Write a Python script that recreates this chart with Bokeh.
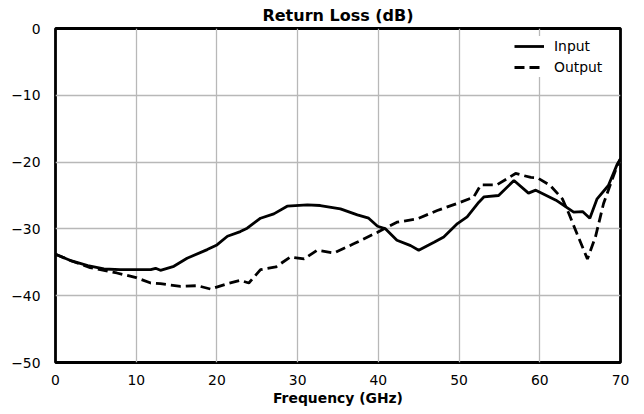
from bokeh.plotting import figure
from bokeh.embed import file_html
from bokeh.resources import INLINE
from bokeh.models import Range1d, FixedTicker, Legend, LegendItem

# Data
input_freq = [0, 2, 4, 6, 8, 10, 11.8, 12.4, 13.0, 14.66, 16.3, 18.8, 20.0, 21.3, 22.9, 23.75, 25.4, 27.05,
              28.7, 31.2, 32.8, 35.3, 37.4, 38.8, 39.9, 40.9, 42.3, 44.0, 45.0, 46.9, 48.1, 49.8, 51.0,
              52.45, 53.1, 54.9, 56.8, 58.6, 59.5, 62.0, 64.2, 65.3, 66.2, 67.1, 68.5, 69.6, 70]
input_rl = [-33.8, -34.8, -35.5, -36.0, -36.1, -36.1, -36.1, -35.9, -36.2, -35.6, -34.4, -33.1, -32.4, -31.1,
            -30.4, -29.9, -28.4, -27.75, -26.6, -26.4, -26.5, -27.0, -27.9, -28.4, -29.6, -30.0, -31.7,
            -32.5, -33.2, -32.0, -31.2, -29.2, -28.2, -26.0, -25.2, -25.0, -22.75, -24.65, -24.2, -25.7,
            -27.5, -27.4, -28.4, -25.5, -23.5, -20.3, -19.5]

output_freq = [0, 2, 4.3, 7.6, 10, 11.8, 13, 15.5, 17.6, 19.2, 21.3, 22.9, 23.95, 25.4, 27.3, 29.1, 30.8,
               32.4, 34.5, 37.0, 39.9, 42.3, 44.8, 47.3, 50.2, 51.8, 52.7, 54.7, 57, 58.9, 59.7, 61.3,
               62.8, 63.6, 64.6, 65.9, 66.9, 67.9, 69.6, 70]
output_rl = [-33.8, -34.8, -35.8, -36.6, -37.3, -38.1, -38.2, -38.6, -38.5, -39.0, -38.2, -37.7, -38.1, -36.1,
             -35.7, -34.2, -34.5, -33.2, -33.6, -32.2, -30.5, -29.0, -28.5, -27.25, -26.0, -25.25, -23.4,
             -23.4, -21.7, -22.3, -22.35, -23.5, -25.5, -27.7, -30.7, -34.5, -31.2, -26.2, -20.5, -19.5]

x_ticks = [0, 10, 20, 30, 40, 50, 60, 70]
y_ticks = [-50, -40, -30, -20, -10, 0]
y_tick_labels = {-50: "\u221250", -40: "\u221240", -30: "\u221230", -20: "\u221220", -10: "\u221210", 0: "0"}

FONT = "DejaVu Sans"

p = figure(width=644, height=414, output_backend="svg", toolbar_location=None,
           x_range=Range1d(0, 70), y_range=Range1d(-50, 0),
           min_border_left=55, min_border_right=24, min_border_top=28, min_border_bottom=52)

p.title.text = "Return Loss (dB)"
p.title.align = "center"
p.title.text_font = FONT
p.title.text_font_size = "16px"
p.title.text_font_style = "bold"
p.title.text_color = "black"
p.title.standoff = 7

p.outline_line_color = "black"
p.outline_line_width = 2.8
p.background_fill_color = "white"
p.border_fill_color = "white"

for ax in (p.xaxis[0], p.yaxis[0]):
    ax.axis_line_color = None
    ax.major_tick_line_color = None
    ax.minor_tick_line_color = None
    ax.major_label_text_font = FONT
    ax.major_label_text_font_size = "13.9px"
    ax.major_label_text_color = "black"
    ax.axis_label_text_font = FONT
    ax.axis_label_text_font_size = "13.9px"
    ax.axis_label_text_font_style = "bold"
    ax.axis_label_text_color = "black"

p.xaxis.ticker = FixedTicker(ticks=x_ticks)
p.yaxis.ticker = FixedTicker(ticks=y_ticks)
p.yaxis.major_label_overrides = y_tick_labels
p.xaxis.axis_label = "Frequency (GHz)"
p.xaxis.major_label_standoff = 6
p.xaxis.axis_label_standoff = 2
p.yaxis.major_label_standoff = 9

p.xgrid.grid_line_color = "#b8b8b8"
p.ygrid.grid_line_color = "#b8b8b8"
p.xgrid.grid_line_width = 1.3
p.ygrid.grid_line_width = 1.3

r_in = p.line(input_freq, input_rl, line_color="black", line_width=2.8)
r_out = p.line(output_freq, output_rl, line_color="black", line_width=2.8, line_dash="10 5")

legend = Legend(items=[LegendItem(label="Input", renderers=[r_in]),
                       LegendItem(label="Output", renderers=[r_out])],
                location=(459, 285))
legend.border_line_color = None
legend.background_fill_color = "white"
legend.background_fill_alpha = 1.0
legend.label_text_font = FONT
legend.label_text_font_size = "13.9px"
legend.label_text_color = "black"
legend.glyph_width = 30
legend.glyph_height = 20
legend.label_height = 20
legend.label_standoff = 10
legend.spacing = 1
legend.padding = 4
legend.margin = 0
p.add_layout(legend)

open("out.html", "w").write(file_html(p, INLINE))
